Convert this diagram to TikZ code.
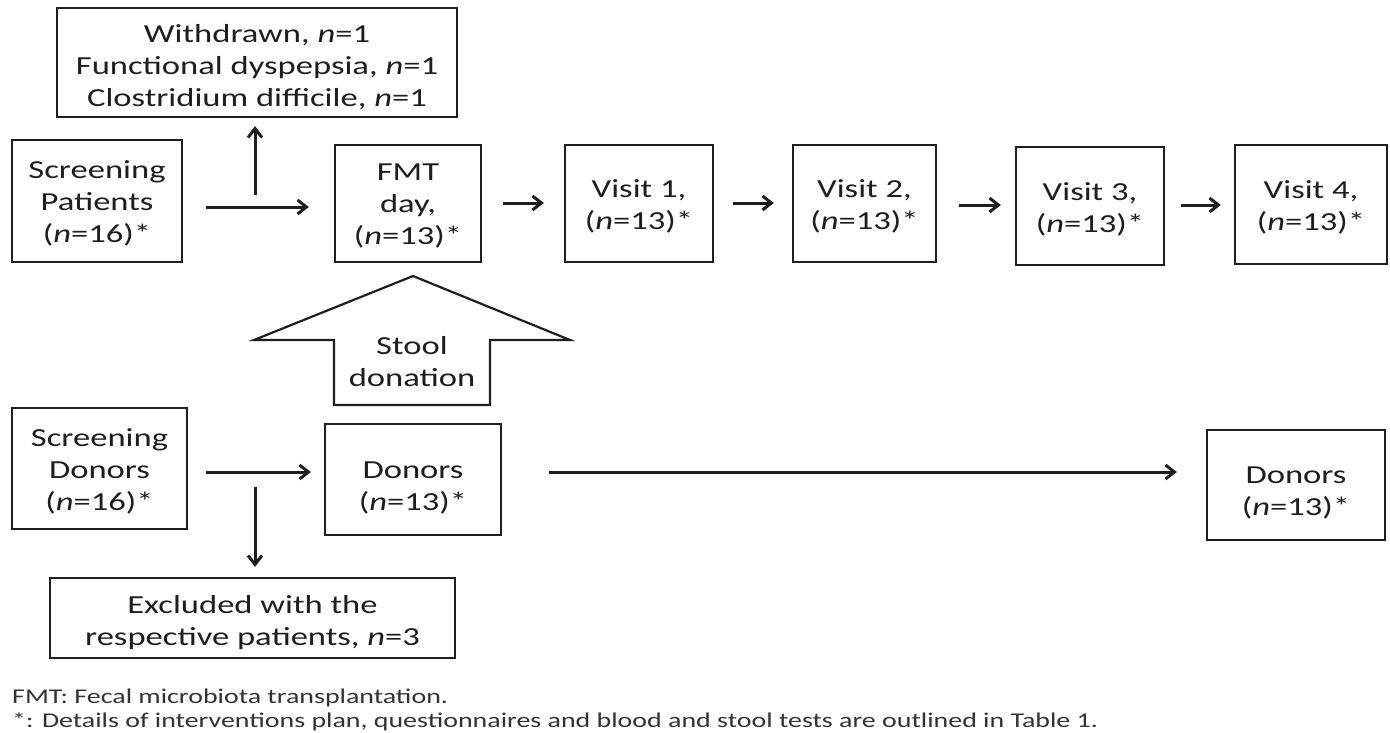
\documentclass[tikz,border=0pt]{standalone}
\usepackage{fontspec}
\setmainfont{Carlito}[FakeStretch=1.33]
\usetikzlibrary{arrows.meta}
\definecolor{ink}{HTML}{1E1E1E}
\definecolor{note}{HTML}{333333}
\tikzset{
  box/.style={draw=ink, line width=2.2pt, inner sep=0pt},
  boxtext/.style={text=ink, align=center, inner sep=0pt, font=\fontsize{26}{32}\selectfont},
  arr/.style={draw=ink, line width=3pt, -{Straight Barb[length=9pt,width=14pt,line width=3pt]}},
  bigarrow/.style={draw=ink, line width=2.2pt, fill=white, line join=miter},
  notetext/.style={text=note, anchor=base west, inner sep=0pt, font=\fontsize{21}{25}\selectfont}
}
\begin{document}
\begin{tikzpicture}[x=1pt,y=-1pt]
\useasboundingbox (0,0) rectangle (1390,732);
\fill[white] (0,0) rectangle (1390,732);
% boxes
\node[box, minimum width=400pt, minimum height=109pt] (wd) at (257,62.5) {};
\node[box, minimum width=170pt, minimum height=122pt] (sp) at (97,201) {};
\node[box, minimum width=146pt, minimum height=117pt] (fmt) at (408,203.5) {};
\node[box, minimum width=148pt, minimum height=117pt] (v1) at (639,203.5) {};
\node[box, minimum width=143pt, minimum height=117pt] (v2) at (864.5,203.5) {};
\node[box, minimum width=148pt, minimum height=118pt] (v3) at (1090,206) {};
\node[box, minimum width=152pt, minimum height=119pt] (v4) at (1311,204.5) {};
\node[box, minimum width=175pt, minimum height=121pt] (sd) at (99.5,468.5) {};
\node[box, minimum width=176pt, minimum height=111pt] (d1) at (413,479.5) {};
\node[box, minimum width=405pt, minimum height=80pt] (ex) at (252.5,618) {};
\node[box, minimum width=178pt, minimum height=110pt] (d2) at (1296,485) {};
% box texts
\node[boxtext] (wdt) at ([yshift=-5pt]wd.center) {Withdrawn, \textit{n}=1\\Functional dyspepsia, \textit{n}=1\\Clostridium difficile, \textit{n}=1};
\node[boxtext] (spt) at ([yshift=-2pt]sp.center) {Screening\\Patients\\(\textit{n}=16)*};
\node[boxtext] (fmtt) at ([yshift=-2pt]fmt.center) {FMT\\day,\\(\textit{n}=13)*};
\node[boxtext] (v1t) at ([yshift=-3pt]v1.center) {Visit 1,\\(\textit{n}=13)*};
\node[boxtext] (v2t) at ([yshift=-3pt]v2.center) {Visit 2,\\(\textit{n}=13)*};
\node[boxtext] (v3t) at ([yshift=-3pt]v3.center) {Visit 3,\\(\textit{n}=13)*};
\node[boxtext] (v4t) at ([yshift=-3pt]v4.center) {Visit 4,\\(\textit{n}=13)*};
\node[boxtext] (sdt) at ([yshift=-3pt]sd.center) {Screening\\Donors\\(\textit{n}=16)*};
\node[boxtext] (d1t) at ([yshift=-8pt]d1.center) {Donors\\(\textit{n}=13)*};
\node[boxtext] (ext) at ([yshift=-5pt]ex.center) {Excluded with the\\respective patients, \textit{n}=3};
\node[boxtext] (d2t) at ([yshift=-8pt]d2.center) {Donors\\(\textit{n}=13)*};
% stool donation arrow
\draw[bigarrow] (413,276) -- (570,340) -- (490,340) -- (490,405) -- (334,405) -- (334,340) -- (254,340) -- cycle;
\node[boxtext] (stool) at (412,362) {Stool\\donation};
% junctions
\coordinate (jp) at (255,195);
\coordinate (jd) at (255,487);
% connectors
\draw[arr] ([xshift=23pt]sp.east |- 0,207) -- ([xshift=-25pt]fmt.west |- 0,207);
\draw[arr] (jp) -- ([yshift=-8pt]wd.south -| jp);
\draw[arr] ([xshift=21pt]fmt.east |- 0,203) -- ([xshift=-20pt]v1.west |- 0,203);
\draw[arr] ([xshift=19pt]v1.east |- 0,203) -- ([xshift=-18pt]v2.west |- 0,203);
\draw[arr] ([xshift=22pt]v2.east |- 0,205) -- ([xshift=-14pt]v3.west |- 0,205);
\draw[arr] ([xshift=16pt]v3.east |- 0,205) -- ([xshift=-13pt]v4.west |- 0,205);
\draw[arr] ([xshift=18pt]sd.east |- 0,472) -- ([xshift=-13pt]d1.west |- 0,472);
\draw[arr] (jd) -- ([yshift=10pt]ex.north -| jd);
\draw[arr] ([xshift=47pt]d1.east |- 0,472) -- ([xshift=-29pt]d2.west |- 0,472);
% notes
\node[notetext] (n1) at (12,703) {FMT: Fecal microbiota transplantation.};
\node[notetext] (n2) at (12,727) {*: Details of interventions plan, questionnaires and blood and stool tests are outlined in Table 1.};
\end{tikzpicture}
\end{document}
